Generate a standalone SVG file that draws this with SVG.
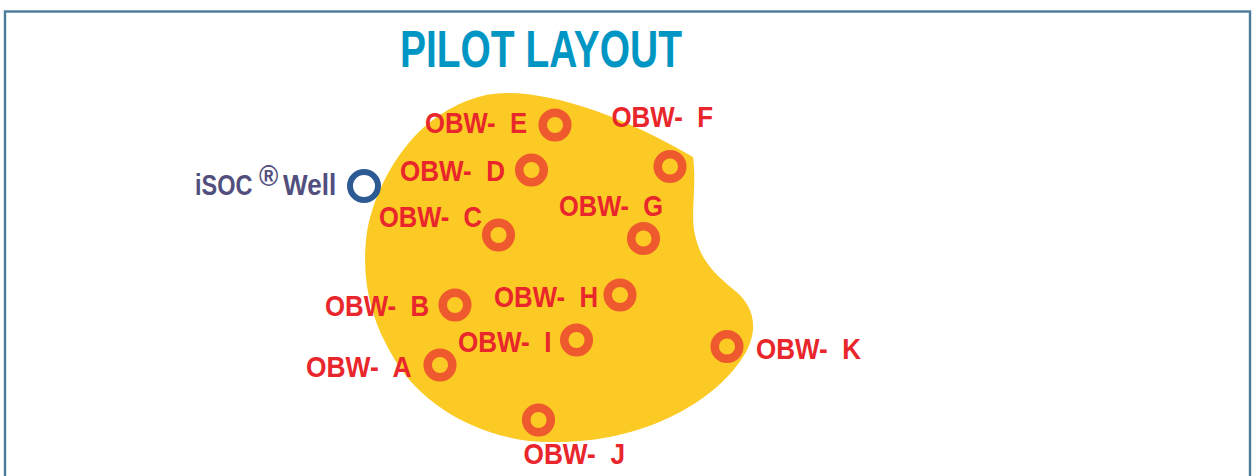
<svg xmlns="http://www.w3.org/2000/svg" width="1257" height="476" viewBox="0 0 1257 476">
<style>
.lbl{font-family:"Liberation Sans",Arial,sans-serif;font-weight:bold;font-size:30px;fill:#e8262c;white-space:pre}
.ring{fill:none;stroke:#ee5a2e;stroke-width:8.5}
.title{font-family:"Liberation Sans",Arial,sans-serif;font-weight:bold;font-size:51px;fill:#0096c4}
.isoc{font-family:"Liberation Sans",Arial,sans-serif;font-weight:bold;font-size:29px;fill:#524f7e}
</style>
<rect x="5" y="11.5" width="1245" height="480" fill="#ffffff" stroke="#4a7b98" stroke-width="2.4"/>
<text class="title" x="400" y="66.5" textLength="282" lengthAdjust="spacingAndGlyphs">PILOT LAYOUT</text>
<path id="blob" fill="#fbca24" d="M507 93 C560 93 630 120 693 157 C697 185 690 215 695 235 C700 258 712 272 733 289 C755 306 760 330 743 357 C712 405 640 442 557 442 C490 444 425 410 395 360 C370 320 362 280 366 240 C370 200 395 150 430 122 C455 103 480 93 507 93 Z"/>
<g id="connectors"></g>
<g id="isoc-well">
<circle cx="364" cy="186" r="14" fill="none" stroke="#2e5a94" stroke-width="6"/>
<text class="isoc" transform="translate(195,195) scale(0.81,1)">iSOC</text>
<text class="isoc" font-size="17" transform="translate(259,186) scale(0.9,1)">®</text>
<text class="isoc" transform="translate(283,195) scale(0.9,1)">Well</text>
</g>
<g id="obw-e"><circle class="ring" cx="555" cy="125" r="12.3"/><text class="lbl" x="425" y="133" textLength="102" lengthAdjust="spacingAndGlyphs">OBW-  E</text></g>
<g id="obw-f"><circle class="ring" cx="670" cy="166.5" r="12.3"/><text class="lbl" x="611.5" y="127" textLength="101.5" lengthAdjust="spacingAndGlyphs">OBW-  F</text></g>
<g id="obw-d"><circle class="ring" cx="531.5" cy="170" r="12.3"/><text class="lbl" x="400" y="180.5" textLength="105" lengthAdjust="spacingAndGlyphs">OBW-  D</text></g>
<g id="obw-c"><circle class="ring" cx="498.5" cy="235" r="12.3"/><text class="lbl" x="379" y="227" textLength="103" lengthAdjust="spacingAndGlyphs">OBW-  C</text></g>
<g id="obw-g"><circle class="ring" cx="643.5" cy="238.5" r="12.3"/><text class="lbl" x="559" y="215.5" textLength="104" lengthAdjust="spacingAndGlyphs">OBW-  G</text></g>
<g id="obw-h"><circle class="ring" cx="620" cy="295" r="12.3"/><text class="lbl" x="494" y="306.5" textLength="104" lengthAdjust="spacingAndGlyphs">OBW-  H</text></g>
<g id="obw-b"><circle class="ring" cx="455" cy="305" r="12.3"/><text class="lbl" x="325" y="315.5" textLength="104" lengthAdjust="spacingAndGlyphs">OBW-  B</text></g>
<g id="obw-i"><circle class="ring" cx="576.5" cy="340" r="12.3"/><text class="lbl" x="458" y="351.5" textLength="93.5" lengthAdjust="spacingAndGlyphs">OBW-  I</text></g>
<g id="obw-k"><circle class="ring" cx="727" cy="346.5" r="12.3"/><text class="lbl" x="756" y="359" textLength="105" lengthAdjust="spacingAndGlyphs">OBW-  K</text></g>
<g id="obw-a"><circle class="ring" cx="440" cy="365" r="12.3"/><text class="lbl" x="306" y="376.5" textLength="105.5" lengthAdjust="spacingAndGlyphs">OBW-  A</text></g>
<g id="obw-j"><circle class="ring" cx="538.5" cy="420" r="12.3"/><text class="lbl" x="523.5" y="464" textLength="101.5" lengthAdjust="spacingAndGlyphs">OBW-  J</text></g>
</svg>
